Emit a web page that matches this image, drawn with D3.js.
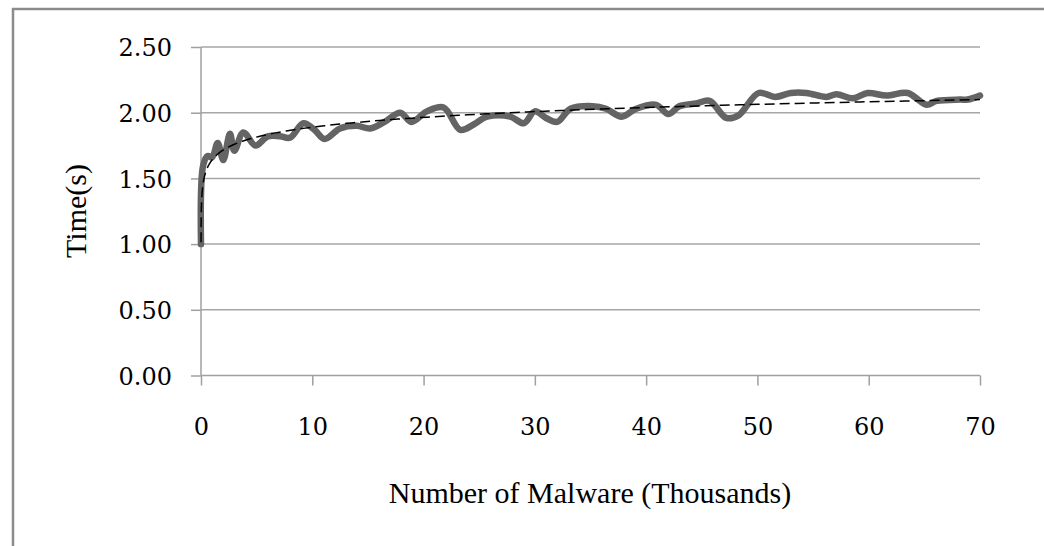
<!DOCTYPE html>
<html>
<head>
<meta charset="utf-8">
<script src="https://cdn.jsdelivr.net/npm/d3@7"></script>
<style>
  html, body { margin: 0; padding: 0; background: #fff; }
  svg { display: block; }
  .tick text { font-family: "DejaVu Serif", serif; font-size: 24px; fill: #000; }
  .title { font-family: "Liberation Serif", "Times New Roman", serif; font-size: 30px; fill: #000; }
</style>
</head>
<body>
<svg id="chart" width="1044" height="546"></svg>
<script>
// values (x in thousands of malware, time in seconds)
const malwareK = [0, 0.2, 0.6, 1.0, 1.5, 2.0, 2.6, 3.0, 3.8, 4.9, 6.0, 7.1, 8.0, 9.2, 10.2, 11.1,
  12.5, 14.0, 15.2, 16.5, 17.9, 18.9, 20.3, 21.8, 23.3, 24.5, 25.7, 27.8, 29.0, 30.0, 31.0, 32.0,
  33.2, 35.2, 36.4, 37.8, 39.1, 40.9, 42.0, 43.0, 44.5, 45.7, 47.2, 48.3, 50.1, 51.6, 53.0, 54.4,
  56.2, 57.1, 58.6, 59.9, 61.6, 63.5, 65.2, 66.1, 68.2, 68.9, 70.0];
const timeSec = [1.00, 1.60, 1.67, 1.66, 1.77, 1.64, 1.84, 1.71, 1.85, 1.75, 1.82, 1.82, 1.81, 1.92, 1.87, 1.80,
  1.88, 1.90, 1.88, 1.93, 2.00, 1.93, 2.01, 2.04, 1.87, 1.91, 1.97, 1.97, 1.92, 2.01, 1.96, 1.93,
  2.03, 2.05, 2.03, 1.97, 2.03, 2.06, 1.99, 2.05, 2.07, 2.09, 1.96, 1.98, 2.15, 2.12, 2.15, 2.15,
  2.12, 2.14, 2.11, 2.15, 2.13, 2.15, 2.06, 2.09, 2.10, 2.10, 2.13];

// logarithmic trend line: time = trendA * ln(x) + trendB
const trendA = 0.108;
const trendB = 1.641;
const trendStart = 0.003;

const xTicks = [0, 10, 20, 30, 40, 50, 60, 70];
const yTicks = [0, 0.5, 1.0, 1.5, 2.0, 2.5];
const xTitle = 'Number of Malware (Thousands)';
const yTitle = 'Time(s)';

const svg = d3.select('#chart');
const m = { left: 201, right: 980, top: 47, bottom: 375.5 };

const x = d3.scaleLinear().domain([0, 70]).range([m.left, m.right]);
const y = d3.scaleLinear().domain([0, 2.5]).range([m.bottom, m.top]);

// outer frame (left + top edges visible)
svg.append('path')
  .attr('d', `M13,546 L13,9 L1044,9`)
  .attr('fill', 'none')
  .attr('stroke', '#8c8c8c')
  .attr('stroke-width', 2.5);

// gridlines
svg.append('g')
  .selectAll('line')
  .data(yTicks.filter(d => d > 0))
  .enter()
  .append('line')
  .attr('x1', m.left).attr('x2', m.right)
  .attr('y1', d => y(d)).attr('y2', d => y(d))
  .attr('stroke', '#a6a6a6')
  .attr('stroke-width', 1.5);

// axes
const yAxis = svg.append('g')
  .attr('transform', `translate(${m.left},0)`)
  .call(d3.axisLeft(y).tickValues(yTicks).tickFormat(d3.format('.2f')).tickSize(10).tickPadding(19));
const xAxis = svg.append('g')
  .attr('transform', `translate(0,${m.bottom})`)
  .call(d3.axisBottom(x).tickValues(xTicks).tickSize(10).tickPadding(32));

[yAxis, xAxis].forEach(ax => {
  ax.select('.domain').attr('stroke', '#a0a0a0').attr('stroke-width', 1.5);
  ax.selectAll('.tick line').attr('stroke', '#a0a0a0').attr('stroke-width', 1.5);
});
yAxis.select('.domain').attr('d', `M0,${m.bottom}V${m.top}`);
xAxis.select('.domain').attr('d', `M${m.left},0H${m.right}`);
yAxis.selectAll('.tick text').attr('dy', '0.36em');
xAxis.selectAll('.tick text').attr('dy', '0.71em');

// data line (smoothed)
const pts = malwareK.map((k, i) => [k, timeSec[i]]);
svg.append('path')
  .datum(pts)
  .attr('fill', 'none')
  .attr('stroke', '#646464')
  .attr('stroke-width', 6.5)
  .attr('stroke-linejoin', 'round')
  .attr('stroke-linecap', 'round')
  .attr('d', d3.line().x(d => x(d[0])).y(d => y(d[1])).curve(d3.curveCatmullRom.alpha(0.5)));

// trend line
const trendX = d3.range(0, 301).map(i => trendStart * Math.pow(70 / trendStart, i / 300));
svg.append('path')
  .datum(trendX)
  .attr('fill', 'none')
  .attr('stroke', '#000')
  .attr('stroke-width', 1.5)
  .attr('stroke-dasharray', '10,5')
  .attr('d', d3.line().x(d => x(d)).y(d => y(trendA * Math.log(d) + trendB)));

// titles
svg.append('text')
  .attr('class', 'title')
  .attr('x', 590).attr('y', 503)
  .attr('text-anchor', 'middle')
  .text(xTitle);
svg.append('text')
  .attr('class', 'title')
  .attr('transform', 'translate(86,211) rotate(-90)')
  .attr('text-anchor', 'middle')
  .text(yTitle);
</script>
</body>
</html>
